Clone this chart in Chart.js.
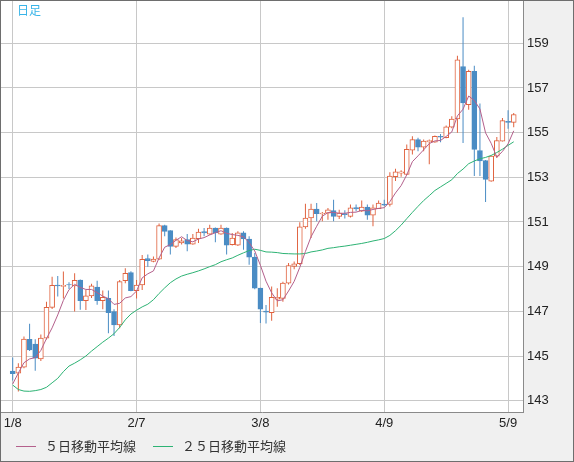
<!DOCTYPE html>
<html><head><meta charset="utf-8">
<script src="https://cdn.jsdelivr.net/npm/chart.js@4.4.0/dist/chart.umd.min.js"></script>
<style>
html,body{margin:0;padding:0;background:#fff;}
#frame{position:relative;width:574px;height:462px;box-sizing:border-box;border:1px solid #6e6e6e;background:#f0f0f0;overflow:hidden;}
#c{position:absolute;left:0;top:0;}
#title{position:absolute;left:16px;top:1px;font-size:12px;line-height:15px;font-family:"Noto Sans CJK JP";color:#38b4e8;}
.leg{position:absolute;top:437px;font-size:13px;line-height:16px;font-family:"Noto Sans CJK JP";color:#333;}
.sw{position:absolute;top:445px;height:1px;width:20px;}
</style></head>
<body>
<div id="frame">
<canvas id="c" width="572" height="460"></canvas>
<div id="title">日足</div>
<div class="sw" style="left:15px;background:#b4608c"></div>
<div class="leg" style="left:44px">５日移動平均線</div>
<div class="sw" style="left:152px;background:#2db374"></div>
<div class="leg" style="left:181px">２５日移動平均線</div>
</div>
<script>
const dates = ['1/8','1/9','1/10','1/11','1/12','1/15','1/16','1/17','1/18','1/19','1/22','1/23','1/24','1/25','1/26','1/29','1/30','1/31',
'2/1','2/2','2/5','2/6','2/7','2/8','2/9','2/12','2/13','2/14','2/15','2/16','2/19','2/20','2/21','2/22','2/23','2/26','2/27','2/28','2/29',
'3/1','3/4','3/5','3/6','3/7','3/8','3/11','3/12','3/13','3/14','3/15','3/18','3/19','3/20','3/21','3/22','3/25','3/26','3/27','3/28','3/29',
'4/1','4/2','4/3','4/4','4/5','4/8','4/9','4/10','4/11','4/12','4/15','4/16','4/17','4/18','4/19','4/22','4/23','4/24','4/25','4/26','4/29','4/30',
'5/1','5/2','5/3','5/6','5/7','5/8','5/9','5/10'];
const tickLabels = ['1/8','2/7','3/8','4/9','5/9'];
const yTicks = [143,145,147,149,151,153,155,157,159];

const opens = [144.33,144.23,144.50,145.75,145.53,144.87,145.80,147.18,148.18,148.12,
148.20,148.14,148.40,147.48,147.69,148.09,147.48,147.58,146.99,146.39,
148.37,148.73,147.93,148.18,149.36,149.24,149.34,150.84,150.61,149.91,
150.06,150.21,150.01,150.25,150.57,150.46,150.73,150.46,150.73,149.99,
149.96,150.51,150.24,149.43,148.04,147.01,146.94,147.55,147.58,148.26,
149.01,149.13,150.78,151.18,151.58,151.36,151.40,151.51,151.25,151.38,
151.25,151.64,151.48,151.67,151.30,151.60,151.80,151.79,153.03,153.19,
153.13,154.22,154.69,154.35,154.59,154.57,154.84,154.77,155.24,155.61,
157.96,156.25,157.74,154.20,153.75,152.83,153.95,154.62,155.51,155.46];
const highs = [144.93,144.68,145.87,146.44,145.75,145.96,147.43,148.55,148.58,148.78,
148.30,148.70,148.42,147.96,148.23,148.37,147.93,147.93,147.09,148.40,
148.93,148.80,148.40,149.52,149.54,149.46,150.93,150.88,150.63,150.31,
150.28,150.46,150.46,150.70,150.73,150.88,150.75,150.88,150.75,150.51,
150.58,150.58,150.36,149.61,148.06,147.28,148.11,148.03,148.33,149.16,
149.23,150.99,151.82,151.82,151.85,151.45,151.63,152.00,151.55,151.53,
151.78,151.78,151.96,151.78,151.78,151.96,152.00,153.23,153.38,153.32,
154.47,154.84,154.77,154.69,154.69,154.87,154.94,155.32,155.73,158.44,
160.16,157.81,157.99,156.30,153.78,153.98,154.81,155.66,156.00,155.88];
const lows = [143.90,143.41,144.45,145.22,144.34,144.78,145.74,147.10,147.66,147.58,
148.00,146.99,147.07,147.06,147.60,147.29,147.09,146.02,145.90,146.24,
148.26,147.90,147.58,147.96,149.00,149.20,149.30,150.36,149.54,149.84,
149.99,149.69,149.98,150.06,150.36,150.43,150.09,150.43,149.54,149.95,
149.92,149.76,149.09,147.99,146.48,146.46,146.58,147.21,147.43,148.20,
148.89,149.08,150.70,150.28,151.03,151.03,151.10,151.03,151.13,151.16,
151.20,151.48,151.45,151.10,150.81,151.58,151.70,151.69,152.83,153.03,
153.10,154.02,154.17,154.17,153.58,154.55,154.57,154.75,155.20,154.99,
154.54,156.03,153.06,153.06,151.90,152.80,153.87,154.60,155.17,155.24];
const closes = [144.21,144.50,145.76,145.27,144.90,145.80,147.18,148.17,148.14,148.16,
148.18,148.39,147.48,147.69,148.14,147.48,147.63,146.94,146.39,148.33,
148.70,147.93,148.18,149.33,149.27,149.34,150.84,150.58,149.91,150.21,
150.16,150.01,150.28,150.55,150.51,150.73,150.51,150.73,149.96,150.28,
150.51,150.24,149.43,148.04,147.10,146.96,147.63,147.63,148.26,149.05,
149.13,150.78,151.18,151.58,151.37,151.40,151.55,151.25,151.40,151.33,
151.63,151.58,151.67,151.30,151.63,151.85,151.75,153.06,153.25,153.25,
154.25,154.69,154.35,154.62,154.65,154.84,154.80,155.26,155.61,158.26,
156.33,157.74,154.25,153.73,152.91,153.95,154.65,155.54,155.46,155.81];
const ma5 = [143.75,144.24,144.70,144.87,144.93,145.25,145.78,146.26,146.84,147.49,
147.97,148.21,148.07,147.98,147.98,147.84,147.68,147.57,147.31,147.36,
147.60,147.66,147.91,148.50,148.68,148.81,149.39,149.87,149.99,150.18,
150.34,150.17,150.11,150.24,150.30,150.42,150.52,150.61,150.49,150.44,
150.40,150.34,150.08,149.70,149.06,148.35,147.83,147.47,147.52,147.91,
148.34,148.97,149.68,150.34,150.81,151.26,151.42,151.43,151.39,151.39,
151.43,151.44,151.52,151.50,151.56,151.61,151.64,151.91,152.30,152.63,
153.11,153.70,153.96,154.23,154.51,154.63,154.65,154.83,155.03,155.75,
156.05,156.64,156.44,156.06,154.99,154.52,153.90,154.16,154.50,155.08];
const ma25 = [143.70,143.50,143.43,143.42,143.45,143.50,143.60,143.80,144.00,144.30,
144.55,144.68,144.83,145.00,145.22,145.42,145.62,145.80,146.00,146.28,
146.62,146.88,147.05,147.20,147.32,147.52,147.80,148.05,148.28,148.45,
148.58,148.66,148.73,148.81,148.90,149.00,149.09,149.22,149.31,149.39,
149.51,149.62,149.72,149.78,149.73,149.66,149.65,149.63,149.59,149.58,
149.57,149.57,149.59,149.66,149.70,149.75,149.82,149.85,149.89,149.92,
149.96,150.00,150.04,150.09,150.15,150.20,150.26,150.40,150.61,150.86,
151.15,151.43,151.70,151.96,152.18,152.41,152.57,152.73,152.89,153.17,
153.37,153.61,153.73,153.83,153.89,153.98,154.11,154.26,154.43,154.59];

const UP = '#e0623e', DOWN = '#4a8cc4';
const isUp = i => closes[i] >= opens[i];

Chart.defaults.font.family = '"Liberation Sans", Arial, sans-serif';
Chart.defaults.font.size = 13;
Chart.defaults.color = '#222';

const bgPlugin = {
  id: 'plotbg',
  beforeDraw(chart) {
    const {ctx, chartArea: a} = chart;
    ctx.save();
    ctx.fillStyle = '#ffffff';
    ctx.fillRect(a.left, a.top, a.right - a.left, a.bottom - a.top);
    ctx.restore();
  }
};

new Chart(document.getElementById('c'), {
  type: 'bar',
  data: {
    datasets: [
      { type: 'line', label: '５日移動平均線', data: dates.map((d, i) => ({x: i, y: ma5[i]})),
        borderColor: '#b4608c', borderWidth: 1, pointRadius: 0, tension: 0, fill: false },
      { type: 'line', label: '２５日移動平均線', data: dates.map((d, i) => ({x: i, y: ma25[i]})),
        borderColor: '#2db374', borderWidth: 1, pointRadius: 0, tension: 0, fill: false },
      { type: 'bar', label: 'body', data: dates.map((d, i) => ({x: i, y: [opens[i], closes[i]]})),
        grouped: false, barPercentage: 1, categoryPercentage: 1, maxBarThickness: 5,
        borderWidth: 1, borderSkipped: false,
        backgroundColor: c => isUp(c.dataIndex) ? '#ffffff' : DOWN,
        borderColor: c => isUp(c.dataIndex) ? UP : DOWN },
      { type: 'bar', label: 'wick', data: dates.map((d, i) => ({x: i, y: [lows[i], highs[i]]})),
        grouped: false, barPercentage: 1, categoryPercentage: 1, maxBarThickness: 1,
        borderWidth: 0, inflateAmount: 0,
        backgroundColor: c => isUp(c.dataIndex) ? UP : DOWN }
    ]
  },
  options: {
    responsive: false, animation: false, events: [],
    layout: { padding: { left: 0, top: 0, right: 0, bottom: 26 } },
    plugins: { legend: { display: false }, tooltip: { enabled: false } },
    scales: {
      x: {
        type: 'linear', min: -2.08, max: 90.65, offset: false,
        grid: { color: '#c8c8c8', drawTicks: false, offset: false },
        border: { display: true, color: '#8a8a8a', width: 1 },
        ticks: { padding: 4, maxRotation: 0, autoSkip: false, color: '#222',
                 callback: v => dates[v] },
        afterBuildTicks: s => { s.ticks = tickLabels.map(l => ({ value: dates.indexOf(l) })); },
        afterFit: s => { s.height = 23; s.paddingLeft = 0; s.paddingRight = 0; }
      },
      y: {
        position: 'right', min: 142.494, max: 160.893,
        grid: { color: '#c8c8c8', drawTicks: false },
        border: { display: true, color: '#8a8a8a', width: 1 },
        ticks: { padding: 4, color: '#222', callback: v => String(v) },
        afterBuildTicks: s => { s.ticks = yTicks.map(v => ({ value: v })); },
        afterFit: s => { s.width = 50; s.paddingTop = 0; s.paddingBottom = 0; }
      }
    }
  },
  plugins: [bgPlugin]
});
</script>
</body></html>
